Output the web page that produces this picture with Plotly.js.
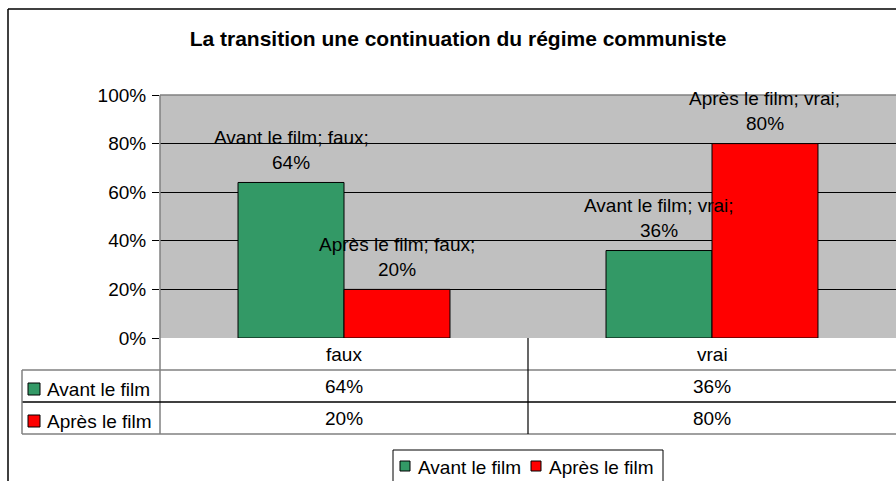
<!DOCTYPE html>
<html>
<head>
<meta charset="utf-8">
<script src="https://cdn.plot.ly/plotly-3.0.1.min.js"></script>
<style>html,body{margin:0;padding:0;background:#fff;}#chart{width:896px;height:481px;}</style>
</head>
<body>
<div id="chart"></div>
<script>
// ---- data ----
const categories = ["faux", "vrai"];
const seriesNames = ["Avant le film", "Après le film"];
const avantValues = [64, 36];
const apresValues = [20, 80];
const yTickValues = [0, 20, 40, 60, 80, 100];
const chartTitle = "La transition une continuation du régime communiste";

// ---- layout geometry (pixels) ----
const W = 896, H = 481;
const PL = 160, PR = 896, PT = 95, PB = 338;
const px = x => (x - PL) / (PR - PL);
const py = y => (PB - y) / (PB - PT);
const colors = ["#339966", "#FF0000"];
const series = [avantValues, apresValues];
const FONT = "Arial, 'Liberation Sans', sans-serif";
const FS = 19;

const traces = series.map((vals, i) => ({
  type: "bar",
  name: seriesNames[i],
  x: categories,
  y: vals,
  marker: {color: colors[i], line: {color: "#000", width: 1}},
  showlegend: false,
  hoverinfo: "skip"
}));

const shapes = [];
const annotations = [];
const line = (x0, y0, x1, y1, color, width) => shapes.push({
  type: "line", xref: "paper", yref: "paper",
  x0: px(x0), y0: py(y0), x1: px(x1), y1: py(y1),
  line: {color: color, width: width || 1}
});

// outer chart border
line(8, 9, 896, 9, "#000", 1.5);
line(8, 9, 8, 481, "#000", 1.5);
// plot area border (top, left)
line(160, 95, 896, 95, "#808080", 1.5);
line(160, 95, 160, 434, "#808080", 1.5);
// table lines
line(22, 370, 896, 370, "#808080", 1.5);
line(22, 402, 896, 402, "#000", 1.5);
line(22, 434, 896, 434, "#808080", 1.5);
line(22, 370, 22, 434, "#808080", 1.5);
line(528, 338, 528, 434, "#000", 1.2);

// category header + table values
const catCenters = [344, 712];
categories.forEach((c, i) => {
  annotations.push({xref: "paper", yref: "paper", x: px(catCenters[i]), y: py(354),
    text: c, showarrow: false, font: {family: FONT, size: FS, color: "#000"},
    xanchor: "center", yanchor: "middle"});
});
const rowY = [386, 418];
series.forEach((vals, s) => {
  // legend key square in table
  shapes.push({type: "rect", xref: "paper", yref: "paper",
    x0: px(28), x1: px(40), y0: py(rowY[s] - 3), y1: py(rowY[s] + 9),
    fillcolor: colors[s], line: {color: "#000", width: 1}});
  annotations.push({xref: "paper", yref: "paper", x: px(45), y: py(rowY[s] + 3),
    text: seriesNames[s], showarrow: false, font: {family: FONT, size: FS, color: "#000"},
    xanchor: "left", yanchor: "middle"});
  vals.forEach((v, i) => {
    annotations.push({xref: "paper", yref: "paper", x: px(catCenters[i]), y: py(rowY[s]),
      text: v + "%", showarrow: false, font: {family: FONT, size: FS, color: "#000"},
      xanchor: "center", yanchor: "middle"});
  });
});

// data labels above bars
const barOffset = [-0.144, 0.144];
series.forEach((vals, s) => {
  vals.forEach((v, i) => {
    annotations.push({xref: "x", yref: "y", x: i + barOffset[s], y: v, yshift: 45,
      text: seriesNames[s] + "; " + categories[i] + ";", showarrow: false,
      font: {family: FONT, size: FS, color: "#000"}, xanchor: "center", yanchor: "middle"});
    annotations.push({xref: "x", yref: "y", x: i + barOffset[s], y: v, yshift: 20,
      text: v + "%", showarrow: false,
      font: {family: FONT, size: FS, color: "#000"}, xanchor: "center", yanchor: "middle"});
  });
});

// bottom legend
shapes.push({type: "rect", xref: "paper", yref: "paper",
  x0: px(393), x1: px(663), y0: py(450), y1: py(495),
  fillcolor: "rgba(0,0,0,0)", line: {color: "#000", width: 1}});
const legX = [400, 531];
seriesNames.forEach((n, s) => {
  shapes.push({type: "rect", xref: "paper", yref: "paper",
    x0: px(legX[s]), x1: px(legX[s] + 10), y0: py(461), y1: py(471),
    fillcolor: colors[s], line: {color: "#000", width: 1}});
  annotations.push({xref: "paper", yref: "paper", x: px(legX[s] + 16), y: py(467),
    text: n, showarrow: false, font: {family: FONT, size: FS, color: "#000"},
    xanchor: "left", yanchor: "middle"});
});

const layout = {
  width: W, height: H,
  margin: {l: PL, r: W - PR, t: PT, b: H - PB, pad: 0},
  paper_bgcolor: "#fff",
  plot_bgcolor: "#C0C0C0",
  title: {text: "<b>" + chartTitle + "</b>", x: 458 / W, xanchor: "center",
    y: 1 - 39 / H, yanchor: "middle", font: {family: FONT, size: 21, color: "#000"}},
  barmode: "group",
  bargap: 0.424,
  bargroupgap: 0,
  xaxis: {type: "category", range: [-0.5, 1.5], showticklabels: false, ticks: "",
    showgrid: false, zeroline: false, showline: false, fixedrange: true},
  yaxis: {range: [0, 100], tickvals: yTickValues, ticktext: yTickValues.map(v => v + "%"),
    ticks: "outside", ticklen: 7, tickcolor: "#000", tickwidth: 1, ticklabelstandoff: 2,
    showgrid: true, gridcolor: "#000", gridwidth: 1, zeroline: false, showline: false,
    tickfont: {family: FONT, size: FS, color: "#000"}, fixedrange: true},
  shapes: shapes,
  annotations: annotations,
  showlegend: false
};

Plotly.newPlot("chart", traces, layout, {staticPlot: true, displayModeBar: false});
</script>
</body>
</html>
